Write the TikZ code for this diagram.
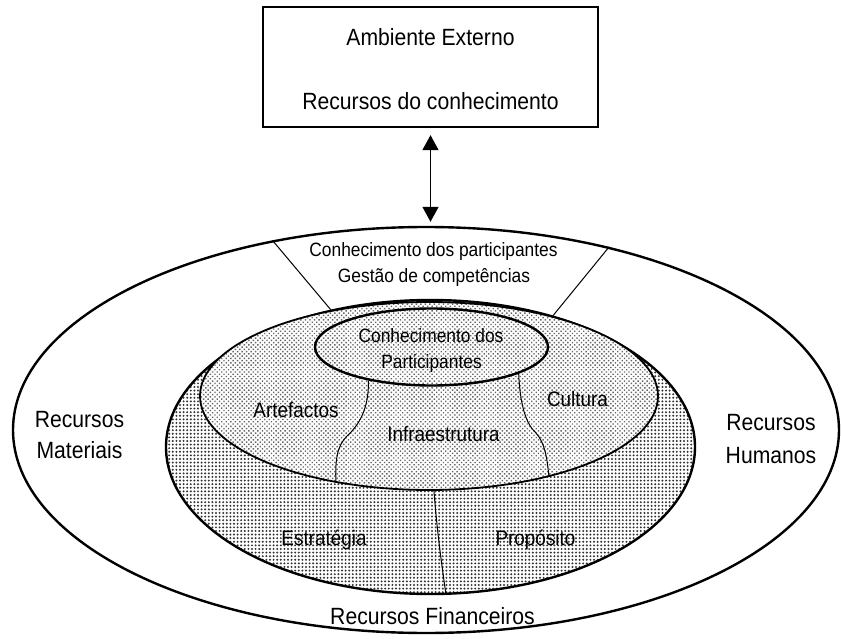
\documentclass[tikz,border=0pt]{standalone}
\usepackage{fontspec}
\setmainfont{Liberation Sans}[FakeStretch=0.9]
\usetikzlibrary{shapes.geometric, arrows.meta, patterns.meta}
\begin{document}
\begin{tikzpicture}[x=1pt, y=-1pt,
  ring/.style={ellipse, draw, inner sep=0pt},
  ringfill/.style={preaction={fill=white}, pattern={Dots[distance=3.6pt, radius=1.1pt]}, pattern color=black!80},
  corefill/.style={preaction={fill=white}, pattern={Dots[distance=3.2pt, radius=1.0pt, angle=45]}, pattern color=black!60},
  bigtext/.style={font=\fontsize{23.5}{27}\selectfont, anchor=base, inner sep=0pt},
  midtext/.style={font=\fontsize{19.3}{23}\selectfont, anchor=base, inner sep=0pt},
  areatext/.style={font=\fontsize{21}{24}\selectfont, anchor=base, inner sep=0pt},
  divider/.style={line width=1pt},
  exchange/.style={line width=1.4pt, {Triangle[width=16pt,length=15pt]}-{Triangle[width=16pt,length=15pt]}},
]
\useasboundingbox (0,0) rectangle (841,639);

% external environment box
\node[draw, line width=1.3pt, minimum width=335pt, minimum height=120pt, inner sep=0pt] (env) at (430.5,67) {};
\node[bigtext] (envA) at (430.5,46) {Ambiente Externo};
\node[bigtext] (envB) at (430.5,110) {Recursos do conhecimento};

% organisational resources
\node[ring, line width=2.4pt, fill=white, minimum width=826pt, minimum height=406pt] (outer) at (426,430) {};

% exchange with the environment
\draw[exchange, shorten <=7.5pt, shorten >=4pt] (env.south) -- (env.south |- outer.north);

% knowledge layers
\node[ring, line width=2.4pt, ringfill, minimum width=529pt, minimum height=294pt] (core) at (430.5,447) {};
\node[ring, line width=1.8pt, corefill, minimum width=458pt, minimum height=188pt] (inner) at (429,396) {};
\node[ring, line width=2.4pt, corefill, minimum width=233pt, minimum height=77pt] (know) at (431.5,347) {};

% sector for the participants' knowledge
\draw[divider] (outer.129.7) -- (core.126.8);
\draw[divider] (outer.45.6) -- (core.47.8);

% partitions of the inner layers
\draw[divider] (know.-152) .. controls (369,410) and (358,426) .. (347,436)
  .. controls (337,446) and (335,460) .. (inner.-137.2);
\draw[divider] (know.-17) .. controls (520,405) and (526,424) .. (536,433)
  .. controls (545,443) and (547,458) .. (inner.-34.3);
\draw[divider] (inner.-87.3) .. controls (437,530) and (441,560) .. (core.-84.7);

% labels
\node[midtext] (partA) at (433.5,257) {Conhecimento dos participantes};
\node[midtext] (partB) at (434,283) {Gestão de competências};
\node[midtext] (knowA) at (431,342) {Conhecimento dos};
\node[midtext] (knowB) at (431.5,368) {Participantes};
\node[areatext] (art) at (296,417) {Artefactos};
\node[areatext] (cult) at (577.5,406) {Cultura};
\node[areatext] (infra) at (443.5,441) {Infraestrutura};
\node[areatext] (strat) at (324,545) {Estratégia};
\node[areatext] (purp) at (535.5,545) {Propósito};
\node[bigtext] (matA) at (79.5,427) {Recursos};
\node[bigtext] (matB) at (79.5,458) {Materiais};
\node[bigtext] (humA) at (771,430) {Recursos};
\node[bigtext] (humB) at (771,463) {Humanos};
\node[bigtext] (fin) at (432.5,624) {Recursos Financeiros};
\end{tikzpicture}
\end{document}
